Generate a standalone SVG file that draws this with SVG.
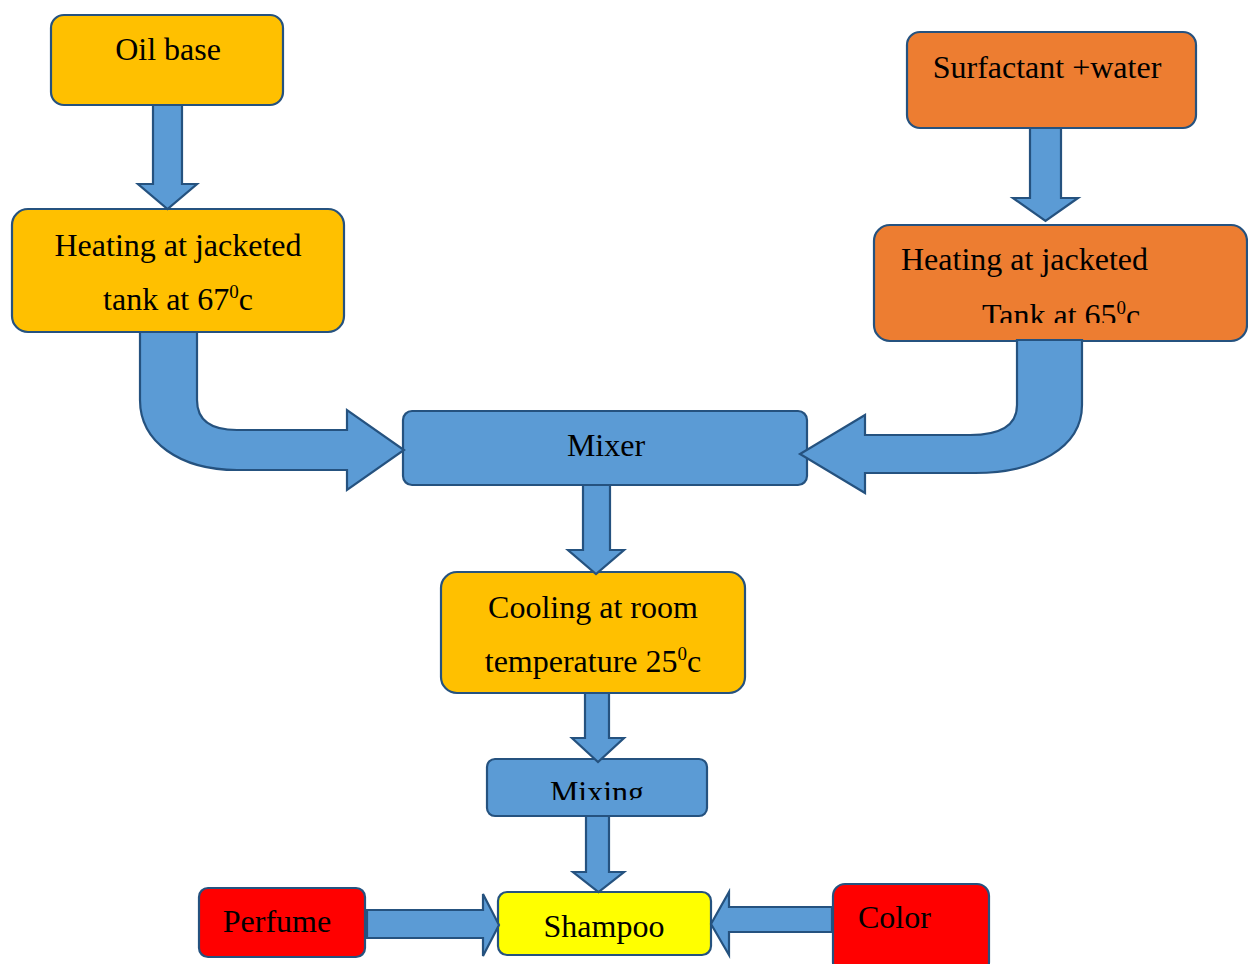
<svg xmlns="http://www.w3.org/2000/svg" width="1248" height="964" viewBox="0 0 1248 964">
<style>
.box{stroke:#25527F;stroke-width:2.2}
.y{fill:#FFC000}.o{fill:#ED7D31}.b{fill:#5B9BD5}.r{fill:#FF0000}.yl{fill:#FFFF00}
.t{font-family:"Liberation Serif","Times New Roman",serif;font-size:32px;fill:#000}
.sup{font-size:19px}
.arr{fill:#5B9BD5;stroke:#25527F;stroke-width:2.2;stroke-linejoin:miter}
</style>
<defs>
<clipPath id="clipR"><rect x="874" y="225" width="374" height="98"/></clipPath>
<clipPath id="clipM"><rect x="487" y="759" width="220" height="41"/></clipPath>
</defs>
<rect width="1248" height="964" fill="#fff"/>
<g id="oil-base"><rect class="box y" x="51" y="15" width="232" height="90" rx="13"/><text class="t" x="168" y="60" text-anchor="middle">Oil base</text></g>
<g id="heating-left"><rect class="box y" x="12" y="209" width="332" height="123" rx="16"/><text class="t" x="178" y="256" text-anchor="middle">Heating at jacketed</text><text class="t" x="178" y="310" text-anchor="middle">tank at 67<tspan class="sup" dy="-12">0</tspan><tspan dy="12">c</tspan></text></g>
<g id="surfactant"><rect class="box o" x="907" y="32" width="289" height="96" rx="13"/><text class="t" x="1047" y="78" text-anchor="middle">Surfactant +water</text></g>
<g id="heating-right"><rect class="box o" x="874" y="225" width="373" height="116" rx="16"/><text class="t" x="901" y="270">Heating at jacketed</text><g clip-path="url(#clipR)"><text class="t" x="982" y="326">Tank at 65<tspan class="sup" dy="-12">0</tspan><tspan dy="12">c</tspan></text></g></g>
<g id="mixer"><rect class="box b" x="403" y="411" width="404" height="74" rx="9"/><text class="t" x="606" y="456" text-anchor="middle">Mixer</text></g>
<g id="cooling"><rect class="box y" x="441" y="572" width="304" height="121" rx="16"/><text class="t" x="593" y="618" text-anchor="middle">Cooling at room</text><text class="t" x="593" y="672" text-anchor="middle">temperature 25<tspan class="sup" dy="-12">0</tspan><tspan dy="12">c</tspan></text></g>
<g id="mixing"><rect class="box b" x="487" y="759" width="220" height="57" rx="8"/><g clip-path="url(#clipM)"><text class="t" x="597" y="803" text-anchor="middle">Mixing</text></g></g>
<g id="perfume"><rect class="box r" x="199" y="888" width="166" height="69" rx="9"/><text class="t" x="277" y="932" text-anchor="middle">Perfume</text></g>
<g id="shampoo"><rect class="box yl" x="498" y="892" width="213" height="63" rx="9"/><text class="t" x="604" y="937" text-anchor="middle">Shampoo</text></g>
<g id="color"><rect class="box r" x="833" y="884" width="156" height="90" rx="12"/><text class="t" x="858" y="928">Color</text></g>
<g id="connectors">
<path class="arr" d="M153,105 L182,105 L182,184 L197,184 L167.5,209 L138,184 L153,184 Z"/>
<path class="arr" d="M1030,128 L1061,128 L1061,198 L1078,198 L1045.5,221 L1013,198 L1030,198 Z"/>
<path class="arr" d="M140,332 L197,332 L197,400 Q197,430 237,430 L347,430 L347,410 L404,450 L347,490 L347,470 L237,470 C180,470 140,442 140,400 Z"/>
<path class="arr" d="M1017,340 L1082,340 L1082,405 C1082,448 1035,473 975,473 L865,473 L865,493 L800,454 L865,415 L865,435 L970,435 Q1017,435 1017,405 Z"/>
<path class="arr" d="M583,485 L610,485 L610,550 L624,550 L596,574 L568,550 L583,550 Z"/>
<path class="arr" d="M585,693 L609,693 L609,738 L624,738 L598,762 L572,738 L585,738 Z"/>
<path class="arr" d="M586,816 L609,816 L609,872 L624,872 L598.5,892 L573,872 L586,872 Z"/>
<path class="arr" d="M367,910 L483,910 L483,894 L499,925 L483,956 L483,938 L367,938 Z"/>
<path class="arr" d="M832,907 L729,907 L729,892 L711,924 L729,955 L729,932 L832,932 Z"/>
</g>
</svg>
